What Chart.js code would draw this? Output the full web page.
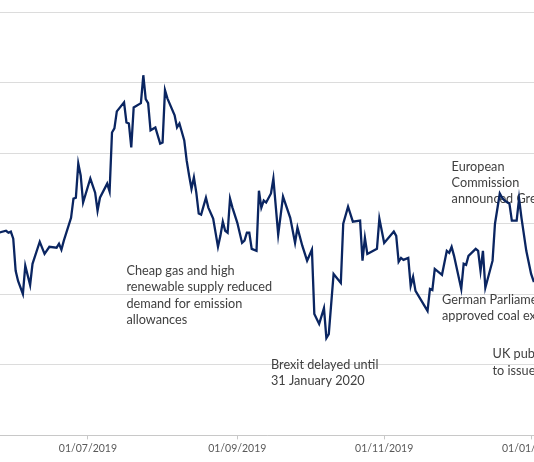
<!DOCTYPE html>
<html>
<head>
<meta charset="utf-8">
<script src="https://cdn.jsdelivr.net/npm/chart.js@4.4.1/dist/chart.umd.min.js"></script>
<style>
  html, body { margin: 0; padding: 0; background: #fff; }
  #wrap { width: 534px; height: 462px; }
</style>
</head>
<body>
<div id="wrap"><canvas id="priceChart"></canvas></div>
<script>
const dates = [
  '2019-05-25','2019-05-28','2019-05-29','2019-05-30','2019-05-31','2019-06-01','2019-06-02','2019-06-04',
  '2019-06-05','2019-06-07','2019-06-08','2019-06-11','2019-06-13','2019-06-15','2019-06-18','2019-06-19',
  '2019-06-20','2019-06-21','2019-06-24','2019-06-25','2019-06-26','2019-06-27','2019-06-28','2019-06-29',
  '2019-07-02','2019-07-04','2019-07-05','2019-07-06','2019-07-09','2019-07-10','2019-07-11','2019-07-12',
  '2019-07-13','2019-07-16','2019-07-17','2019-07-18','2019-07-19','2019-07-20','2019-07-23','2019-07-24',
  '2019-07-25','2019-07-26','2019-07-27','2019-07-29','2019-07-31','2019-08-01','2019-08-02','2019-08-03',
  '2019-08-06','2019-08-07','2019-08-08','2019-08-10','2019-08-11','2019-08-12','2019-08-13','2019-08-14',
  '2019-08-15','2019-08-16','2019-08-17','2019-08-19','2019-08-20','2019-08-22','2019-08-24','2019-08-25',
  '2019-08-26','2019-08-27','2019-08-28','2019-08-29','2019-08-30','2019-09-01','2019-09-03','2019-09-04',
  '2019-09-05','2019-09-06','2019-09-07','2019-09-09','2019-09-10','2019-09-11','2019-09-12','2019-09-13',
  '2019-09-15','2019-09-16','2019-09-18','2019-09-20','2019-09-23','2019-09-25','2019-09-26','2019-09-28',
  '2019-09-30','2019-10-02','2019-10-03','2019-10-05','2019-10-07','2019-10-08','2019-10-09','2019-10-11',
  '2019-10-14','2019-10-15','2019-10-17','2019-10-19','2019-10-22','2019-10-23','2019-10-24','2019-10-25',
  '2019-10-29','2019-10-30','2019-11-01','2019-11-05','2019-11-06','2019-11-07','2019-11-08','2019-11-09',
  '2019-11-11','2019-11-12','2019-11-13','2019-11-14','2019-11-19','2019-11-20','2019-11-21','2019-11-22',
  '2019-11-25','2019-11-27','2019-11-28','2019-11-29','2019-11-30','2019-12-03','2019-12-04','2019-12-05',
  '2019-12-06','2019-12-09','2019-12-10','2019-12-11','2019-12-12','2019-12-13','2019-12-16','2019-12-17',
  '2019-12-19','2019-12-20','2019-12-21','2019-12-23','2019-12-24','2019-12-26','2019-12-27','2019-12-28',
  '2019-12-30','2020-01-01','2020-01-02','2020-01-03'
];
const prices = [
  24.68, 24.75, 24.68, 24.72, 24.47, 23.33, 22.97, 22.51,
  23.51, 22.83, 23.58, 24.36, 23.93, 24.18, 24.15, 24.29,
  24.08, 24.40, 25.21, 25.89, 25.92, 27.13, 26.71, 25.75,
  26.60, 26.10, 25.46, 25.92, 26.42, 26.14, 28.23, 28.38,
  28.98, 29.30, 28.59, 28.55, 27.70, 29.12, 29.27, 30.26,
  29.41, 29.27, 28.31, 28.41, 27.84, 27.88, 29.73, 29.44,
  28.84, 28.41, 28.55, 27.95, 27.24, 26.71, 26.24, 26.64,
  26.10, 25.36, 25.32, 25.92, 25.57, 25.18, 24.18, 24.57,
  25.07, 24.75, 24.68, 25.89, 25.57, 25.04, 24.32, 24.40,
  24.68, 24.68, 24.11, 24.04, 26.17, 25.57, 25.82, 25.75,
  26.07, 26.60, 24.61, 25.96, 25.21, 24.32, 24.86, 24.22,
  23.69, 24.08, 21.80, 21.45, 22.01, 20.95, 21.09, 23.22,
  22.90, 25.00, 25.60, 25.07, 25.11, 23.69, 24.50, 23.93,
  24.11, 25.18, 24.32, 24.72, 24.57, 23.65, 23.79, 23.72,
  23.79, 22.80, 23.12, 22.62, 21.91, 22.69, 22.65, 23.40,
  23.19, 24.04, 23.97, 24.18, 23.86, 22.69, 23.58, 23.54,
  23.86, 24.11, 24.04, 23.33, 24.04, 22.73, 23.69, 25.00,
  26.07, 25.92, 25.82, 25.71, 25.11, 25.11, 25.89, 25.21,
  24.04, 23.22, 22.97, 23.01
];

const tickDates = ['2019-07-01', '2019-09-01', '2019-11-01', '2020-01-01'];
const tickLabels = ['01/07/2019', '01/09/2019', '01/11/2019', '01/01/2020'];

// event notes, anchored at (date, price) of the first text line
const notes = [
  { date: '2019-07-17', value: 23.33, lines: ['Cheap gas and high', 'renewable supply reduced', 'demand for emission', 'allowances'] },
  { date: '2019-09-15', value: 20.00, lines: ['Brexit delayed until', '31 January 2020'] },
  { date: '2019-11-29', value: 27.03, lines: ['European', 'Commission', 'announced Green Deal'] },
  { date: '2019-11-25', value: 22.30, lines: ['German Parliament', 'approved coal exit'] },
  { date: '2019-12-16', value: 20.38, lines: ['UK published', 'to issue'] }
];

function dayOf(s) {
  const [y, m, d] = s.split('-').map(Number);
  return (Date.UTC(y, m - 1, d) - Date.UTC(2019, 6, 1)) / 86400000;
}

const points = dates.map((d, i) => ({ x: dayOf(d), y: prices[i] }));
const tickDays = tickDates.map(dayOf);

const notesPlugin = {
  id: 'notes',
  beforeDatasetsDraw(chart) {
    const { ctx, scales: { x, y } } = chart;
    ctx.save();
    ctx.font = '12.7px Lato';
    ctx.fillStyle = '#404040';
    ctx.textBaseline = 'middle';
    notes.forEach(n => {
      const px = x.getPixelForValue(dayOf(n.date));
      const py = y.getPixelForValue(n.value);
      n.lines.forEach((t, i) => ctx.fillText(t, px, py + i * 16.3));
    });
    ctx.restore();
  }
};

const ctx = document.getElementById('priceChart').getContext('2d');
new Chart(ctx, {
  type: 'line',
  data: {
    datasets: [{
      data: points,
      borderColor: '#0a2561',
      borderWidth: 2.3,
      pointRadius: 0,
      tension: 0,
      fill: false
    }]
  },
  options: {
    responsive: true,
    maintainAspectRatio: false,
    animation: false,
    layout: { padding: { top: 12, bottom: 4, left: 0, right: 0 } },
    plugins: {
      legend: { display: false },
      tooltip: { enabled: false }
    },
    scales: {
      x: {
        type: 'linear',
        min: -36.5,
        max: 185.2,
        afterBuildTicks: scale => { scale.ticks = tickDays.map(v => ({ value: v })); },
        afterFit: scale => { scale.paddingLeft = 0; scale.paddingRight = 0; },
        ticks: {
          autoSkip: false,
          maxRotation: 0,
          padding: 3,
          color: '#595959',
          font: { family: 'Lato', size: 10.5 },
          callback: v => tickLabels[tickDays.indexOf(v)]
        },
        grid: { drawOnChartArea: false, tickLength: 4, tickColor: '#c8c8c8' },
        border: { color: '#c8c8c8' }
      },
      y: {
        min: 17.5,
        max: 32.5,
        afterFit: scale => { scale.width = 0; },
        ticks: { stepSize: 2.5, display: false },
        grid: { color: '#dcdcdc', drawTicks: false },
        border: { display: false }
      }
    }
  },
  plugins: [notesPlugin]
});
</script>
</body>
</html>
